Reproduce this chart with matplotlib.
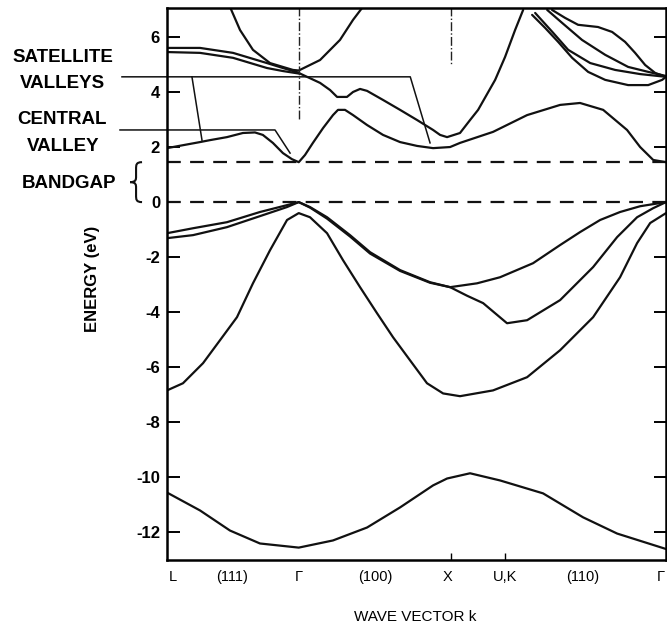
import matplotlib.pyplot as plt
from matplotlib.path import Path
from matplotlib.patches import PathPatch
from matplotlib.transforms import blended_transform_factory

plt.rcParams['font.family'] = ['Liberation Sans', 'DejaVu Sans']

# symmetry points along the path L - Gamma - X - U,K - Gamma
k_L, k_G, k_X, k_U, k_G2 = -0.866, 0.0, 1.0, 1.354, 2.414
gap = 1.45

# conduction bands (k, energy in eV)
c1_k = [-0.866, -0.649, -0.584, -0.472, -0.367, -0.288, -0.236, -0.170, -0.104, -0.045, 0.0,
        0.041, 0.093, 0.160, 0.225, 0.258, 0.304, 0.357, 0.449, 0.554, 0.666, 0.778, 0.883,
        0.995, 1.060, 1.277, 1.501, 1.718, 1.849, 2.001, 2.158, 2.244, 2.330, 2.414]
c1_e = [1.96, 2.18, 2.25, 2.36, 2.51, 2.53, 2.44, 2.15, 1.78, 1.56, 1.45,
        1.71, 2.15, 2.69, 3.16, 3.35, 3.35, 3.16, 2.80, 2.44, 2.18, 2.04, 1.96,
        2.00, 2.15, 2.55, 3.16, 3.53, 3.60, 3.35, 2.62, 2.00, 1.53, 1.45]

c2_k = [0.0, 0.140, 0.206, 0.252, 0.317, 0.357, 0.403, 0.449, 0.554, 0.666, 0.778, 0.883,
        0.929, 0.975, 1.060, 1.126, 1.179, 1.291, 1.356, 1.422, 1.475]
c2_e = [4.69, 4.33, 4.07, 3.82, 3.82, 4.00, 4.11, 4.04, 3.71, 3.35, 2.98, 2.62,
        2.44, 2.36, 2.51, 2.98, 3.35, 4.44, 5.27, 6.25, 6.98]

c3_k = [-0.866, -0.649, -0.432, -0.209, -0.104, 0.0]
c3_e = [5.60, 5.60, 5.42, 5.05, 4.87, 4.70]
c4_k = [-0.866, -0.649, -0.432, -0.209, -0.104, 0.0]
c4_e = [5.45, 5.42, 5.24, 4.87, 4.76, 4.67]

c5_k = [-0.452, -0.386, -0.301, -0.189, -0.038, 0.0, 0.140, 0.271, 0.357, 0.416]
c5_e = [7.09, 6.25, 5.53, 5.05, 4.80, 4.78, 5.16, 5.89, 6.62, 7.05]

c6_k = [1.665, 1.751, 1.836, 1.967, 2.060, 2.145, 2.211, 2.277, 2.343, 2.414]
c6_e = [6.98, 6.69, 6.44, 6.36, 6.18, 5.82, 5.42, 4.98, 4.69, 4.55]
c7_k = [1.633, 1.731, 1.862, 2.014, 2.165, 2.297, 2.414]
c7_e = [6.98, 6.51, 5.89, 5.35, 4.91, 4.73, 4.58]
c8_k = [1.554, 1.672, 1.771, 1.916, 2.080, 2.244, 2.414]
c8_e = [6.87, 6.15, 5.53, 5.05, 4.80, 4.65, 4.55]
c9_k = [1.534, 1.619, 1.705, 1.797, 1.902, 2.014, 2.165, 2.297, 2.389, 2.414]
c9_e = [6.80, 6.33, 5.82, 5.24, 4.73, 4.44, 4.25, 4.25, 4.44, 4.55]

# valence bands
v1_k = [-0.866, -0.695, -0.472, -0.255, -0.077, 0.0, 0.074, 0.186, 0.337, 0.469, 0.666, 0.863,
        0.995, 1.172, 1.323, 1.540, 1.718, 1.849, 1.981, 2.112, 2.244, 2.414]
v1_e = [-1.13, -0.95, -0.73, -0.36, -0.11, 0.0, -0.18, -0.55, -1.20, -1.82, -2.47, -2.91,
        -3.09, -2.95, -2.73, -2.22, -1.56, -1.09, -0.65, -0.36, -0.15, 0.0]
v2_k = [-0.866, -0.695, -0.472, -0.255, -0.077, 0.0, 0.074, 0.186, 0.337, 0.469, 0.666, 0.863,
        0.995, 1.106, 1.212, 1.369, 1.501, 1.718, 1.935, 2.093, 2.224, 2.330, 2.414]
v2_e = [-1.31, -1.20, -0.91, -0.51, -0.18, 0.0, -0.20, -0.60, -1.25, -1.87, -2.50, -2.93,
        -3.09, -3.40, -3.67, -4.40, -4.29, -3.56, -2.36, -1.27, -0.55, -0.22, 0.0]
v3_k = [-0.866, -0.761, -0.629, -0.518, -0.406, -0.301, -0.189, -0.077, 0.0, 0.074, 0.186,
        0.291, 0.403, 0.515, 0.620, 0.732, 0.843, 0.949, 1.060, 1.277, 1.501, 1.718, 1.935,
        2.112, 2.224, 2.310, 2.414]
v3_e = [-6.84, -6.58, -5.85, -5.02, -4.18, -2.95, -1.75, -0.65, -0.40, -0.55, -1.13,
        -2.11, -3.09, -4.04, -4.91, -5.75, -6.58, -6.95, -7.05, -6.84, -6.36, -5.38, -4.18,
        -2.73, -1.49, -0.76, -0.40]
v4_k = [-0.866, -0.649, -0.452, -0.255, 0.0, 0.225, 0.449, 0.666, 0.883, 0.975, 1.126,
        1.323, 1.606, 1.869, 2.093, 2.414]
v4_e = [-10.55, -11.20, -11.93, -12.40, -12.55, -12.29, -11.82, -11.09, -10.29, -10.04, -9.85,
        -10.11, -10.58, -11.45, -12.04, -12.60]

bands = [(c1_k, c1_e), (c2_k, c2_e), (c3_k, c3_e), (c4_k, c4_e), (c5_k, c5_e),
         (c6_k, c6_e), (c7_k, c7_e), (c8_k, c8_e), (c9_k, c9_e),
         (v1_k, v1_e), (v2_k, v2_e), (v3_k, v3_e), (v4_k, v4_e)]

ytick_vals = [6, 4, 2, 0, -2, -4, -6, -8, -10, -12]
ytick_labels = ['6', '4', '2', '0', '-2', '-4', '-6', '-8', '-10', '-12']
xlabel_pos = [-0.827, -0.438, 0.0, 0.50, 0.975, 1.357, 1.864, 2.377]
xlabel_txt = ['L', '(111)', 'Γ', '(100)', 'X', 'U,K', '(110)', 'Γ']

fig = plt.figure(figsize=(6.67, 6.29), dpi=100)
ax = fig.add_axes([167 / 667, 69 / 629, 499 / 667, 552 / 629])

for kk, ee in bands:
    ax.plot(kk, ee, color='#111111', lw=1.6, solid_capstyle='round')

# band edges
ax.axhline(gap, color='#111111', lw=1.6, dashes=(6.2, 4.2))
ax.axhline(0, color='#111111', lw=1.6, dashes=(6.2, 4.2))

# dash-dot markers at Gamma and X
ax.plot([k_G, k_G], [7.1, 3.0], color='#222222', lw=1.0, ls='-.')
ax.plot([k_X, k_X], [7.1, 5.0], color='#222222', lw=1.0, ls='-.')

# annotation leaders
ax.plot([-1.162, 0.733, 0.863], [4.55, 4.55, 2.15], color='#111111', lw=1.1, clip_on=False)
ax.plot([-0.702, -0.636], [4.55, 2.25], color='#111111', lw=1.1, clip_on=False)
ax.plot([-1.175, -0.156, -0.057], [2.62, 2.62, 1.78], color='#111111', lw=1.1, clip_on=False)

# brace for the gap
tr = blended_transform_factory(ax.transAxes, ax.transData)
mid = gap / 2
verts = [(-0.050, gap), (-0.062, gap), (-0.062, gap - 0.1), (-0.062, gap - 0.25),
         (-0.062, mid + 0.2), (-0.062, mid + 0.1), (-0.062, mid), (-0.074, mid),
         (-0.062, mid), (-0.062, mid - 0.1), (-0.062, mid - 0.2),
         (-0.062, 0.25), (-0.062, 0.1), (-0.062, 0.0), (-0.050, 0.0)]
codes = [Path.MOVETO, Path.CURVE4, Path.CURVE4, Path.CURVE4,
         Path.LINETO, Path.CURVE4, Path.CURVE4, Path.CURVE4,
         Path.CURVE4, Path.CURVE4, Path.CURVE4,
         Path.LINETO, Path.CURVE4, Path.CURVE4, Path.CURVE4]
ax.add_patch(PathPatch(Path(verts, codes), transform=tr, fill=False, lw=1.5,
                       edgecolor='#111111', clip_on=False))

ax.set_xlim(k_L, k_G2)
ax.set_ylim(-13.0, 7.05)
ax.set_yticks(ytick_vals)
ax.set_yticklabels(ytick_labels, fontsize=12, fontweight='bold')
ax.tick_params(axis='y', direction='in', length=9, width=1.4, right=True, pad=5)
ax.set_xticks(xlabel_pos)
ax.set_xticklabels(xlabel_txt, fontsize=10.5)
ax.tick_params(axis='x', which='major', length=0, pad=7)
ax.set_xticks([k_G, k_X, k_U], minor=True)
ax.tick_params(axis='x', which='minor', direction='in', length=5, width=1.0)
for s in ax.spines.values():
    s.set_linewidth(1.8)

fig.text(63 / 667, 1 - 57 / 629, 'SATELLITE', ha='center', va='center', fontsize=13.5, fontweight='bold')
fig.text(62 / 667, 1 - 83 / 629, 'VALLEYS', ha='center', va='center', fontsize=13.5, fontweight='bold')
fig.text(62 / 667, 1 - 119 / 629, 'CENTRAL', ha='center', va='center', fontsize=13.5, fontweight='bold')
fig.text(63 / 667, 1 - 146 / 629, 'VALLEY', ha='center', va='center', fontsize=13.5, fontweight='bold')
fig.text(69 / 667, 1 - 183 / 629, 'BANDGAP', ha='center', va='center', fontsize=13.5, fontweight='bold')
fig.text(93 / 667, 1 - 279 / 629, 'ENERGY (eV)', ha='center', va='center', rotation=90,
         fontsize=12, fontweight='bold')
fig.text(415 / 667, 1 - 617 / 629, 'WAVE VECTOR k', ha='center', va='center', fontsize=11)

fig.savefig('out.png', dpi=100, facecolor='white')
